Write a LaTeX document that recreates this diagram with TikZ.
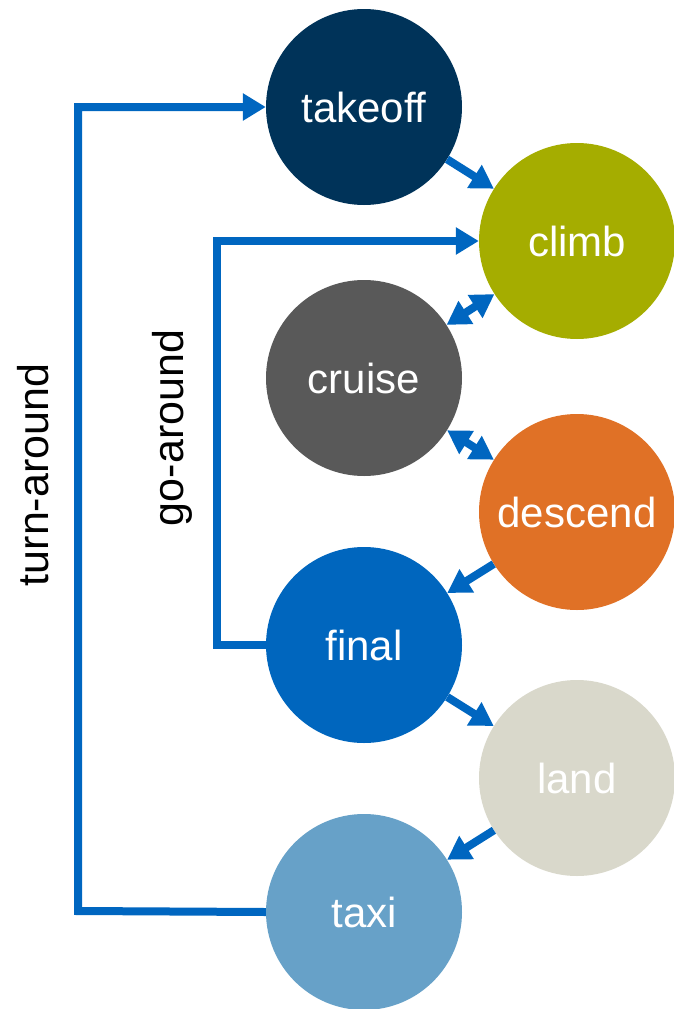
\documentclass[tikz,border=0pt]{standalone}
\usepackage{fontspec}
\setmainfont{Liberation Sans}
\usetikzlibrary{arrows.meta}
\definecolor{cTakeoff}{HTML}{003359}
\definecolor{cClimb}{HTML}{A5AD00}
\definecolor{cCruise}{HTML}{595959}
\definecolor{cDescend}{HTML}{E07126}
\definecolor{cFinal}{HTML}{0066BE}
\definecolor{cLand}{HTML}{D9D8CB}
\definecolor{cTaxi}{HTML}{67A1C8}
\definecolor{cLink}{HTML}{0066C0}
\tikzset{
  phase/.style={circle, minimum size=196pt, inner sep=0pt, text=white,
    font=\fontsize{42}{50}\selectfont},
  link/.style={draw=cLink, line width=8pt, line join=miter,
    -{Triangle[length=23pt,width=26pt]}},
  duallink/.style={draw=cLink, line width=8pt,
    {Triangle[length=23pt,width=26pt]}-{Triangle[length=23pt,width=26pt]}},
  looplabel/.style={rotate=90, font=\fontsize{43}{50}\selectfont}
}
\begin{document}
\begin{tikzpicture}[x=1pt,y=-1pt]
\useasboundingbox (0,0) rectangle (674,1009);
\node[phase, fill=cTakeoff] (takeoff) at (364,107) {takeoff};
\node[phase, fill=cClimb]   (climb)   at (577,241) {climb};
\node[phase, fill=cCruise]  (cruise)  at (364,378) {cruise};
\node[phase, fill=cDescend] (descend) at (577,512) {descend};
\node[phase, fill=cFinal]   (final)   at (364,645) {final};
\node[phase, fill=cLand]    (land)    at (577,778) {land};
\node[phase, fill=cTaxi]    (taxi)    at (364,912) {taxi};

\draw[link] (takeoff) -- (climb);
\draw[duallink] (cruise) -- (climb);
\draw[duallink] (cruise) -- (descend);
\draw[link] (descend) -- (final);
\draw[link] (final) -- (land);
\draw[link] (land) -- (taxi);

\coordinate (ga) at (217,645);
\coordinate (ta) at (78,911);
\draw[link] (final.west) -- (ga) |- (climb.west);
\draw[link] (taxi.west) -- (ta) |- (takeoff.west);

\node[looplabel] (galabel) at (172,428) {go-around};
\node[looplabel] (talabel) at (33,475) {turn-around};
\end{tikzpicture}
\end{document}
